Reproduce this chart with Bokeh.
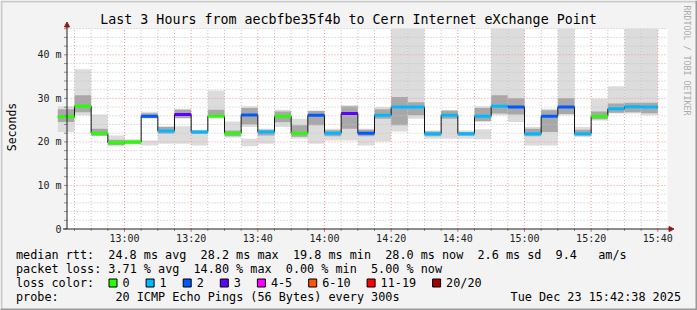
import math
import re
from bokeh.plotting import figure
from bokeh.models import Range1d
from bokeh.core.properties import value
from bokeh.embed import file_html
from bokeh.resources import INLINE

# ---------------- data ----------------
step_end = ["12:45", "12:50", "12:55", "13:00", "13:05", "13:10", "13:15", "13:20", "13:25",
            "13:30", "13:35", "13:40", "13:45", "13:50", "13:55", "14:00", "14:05", "14:10",
            "14:15", "14:20", "14:25", "14:30", "14:35", "14:40", "14:45", "14:50", "14:55",
            "15:00", "15:05", "15:10", "15:15", "15:20", "15:25", "15:30", "15:35", "15:40"]
median = [25.8, 28.2, 22.0, 19.8, 20.0, 25.9, 22.5, 26.3, 22.3, 25.9, 22.0, 26.2, 22.3, 25.9,
          22.0, 26.1, 22.0, 26.5, 22.0, 26.1, 28.0, 28.0, 21.9, 26.1, 21.9, 25.9, 28.2, 28.0,
          21.9, 25.9, 28.0, 21.9, 25.9, 27.6, 28.1, 28.0]
loss_bucket = [0, 0, 0, 0, 0, 2, 1, 3, 1, 0, 0, 2, 1, 0, 0, 2, 1, 3, 2, 1, 1, 1, 1, 1, 1, 1,
               1, 2, 1, 2, 2, 1, 0, 1, 1, 1]
smoke_lo = [22.3, 26.1, 21.3, 19.0, 19.4, 25.3, 19.6, 25.3, 19.2, 25.6, 21.0, 23.4, 19.6, 23.4,
            20.7, 19.6, 20.3, 20.3, 19.2, 20.1, 22.4, 25.3, 20.7, 20.7, 20.7, 24.6, 26.1, 24.6,
            19.2, 19.2, 26.1, 21.1, 24.9, 26.5, 26.5, 26.1]
smoke_hi = [28.2, 36.7, 26.3, 21.5, 20.6, 26.9, 23.6, 27.6, 22.6, 31.8, 24.7, 28.2, 23.0, 27.4,
            25.3, 27.2, 23.0, 28.4, 23.0, 28.0, 46.0, 46.0, 22.6, 27.2, 22.6, 28.2, 46.0, 46.0,
            23.4, 27.6, 46.0, 23.4, 29.9, 32.8, 46.0, 46.0]
core_lo = [24.6, 26.8, 21.4, 19.3, 19.6, 25.5, 21.9, 25.5, 21.8, 25.7, 21.3, 24.0, 21.5, 24.5,
           21.2, 23.8, 21.3, 23.0, 21.3, 25.3, 23.8, 26.1, 21.3, 25.3, 21.4, 24.8, 26.5, 26.3,
           21.3, 22.3, 26.4, 21.4, 25.2, 26.7, 26.8, 26.6]
core_hi = [27.5, 30.7, 23.0, 20.5, 20.3, 26.6, 23.4, 27.4, 22.6, 27.4, 22.6, 27.8, 22.8, 27.0,
           23.8, 27.1, 22.7, 28.2, 22.8, 27.5, 30.3, 29.1, 22.4, 27.2, 22.3, 27.8, 30.7, 30.0,
           23.0, 27.3, 30.0, 22.8, 27.0, 28.8, 29.0, 29.0]
# separate lower smoke patches (step index, low, high)
extra_idx = [5, 7, 11, 25]
extra_lo = [19.2, 19.6, 19.0, 20.6]
extra_hi = [20.3, 23.6, 20.7, 22.9]

loss_labels = ["0", "1", "2", "3", "4-5", "6-10", "11-19", "20/20"]
loss_colors = ["#26ff00", "#00b8ff", "#0059ff", "#5e00ff", "#ff00ff", "#ff5500", "#ff0000", "#a10000"]

x_tick_labels = ["13:00", "13:20", "13:40", "14:00", "14:20", "14:40", "15:00", "15:20", "15:40"]
y_ticks = [0, 10, 20, 30, 40]
y_tick_labels = ["0", "10 m", "20 m", "30 m", "40 m"]

title_text = "Last 3 Hours from aecbfbe35f4b to Cern Internet eXchange Point"
y_label = "Seconds"
stat_lines = [
    "median rtt:  24.8 ms avg  28.2 ms max  19.8 ms min  28.0 ms now  2.6 ms sd  9.4   am/s",
    "packet loss: 3.71 % avg  14.80 % max  0.00 % min  5.00 % now",
]
loss_title = "loss color:"
probe_line = "probe:        20 ICMP Echo Pings (56 Bytes) every 300s"
date_text = "Tue Dec 23 15:42:38 2025"
side_text = "RRDTOOL / TOBI OETIKER"


def to_min(s):
    h, m = s.split(":")
    return int(h) * 60 + int(m)


t_end = [to_min(s) for s in step_end]
t_start = [t - 5 for t in t_end]
x_ticks = [to_min(s) for s in x_tick_labels]

# ---------------- geometry (canvas pixels) ----------------
W, H = 697, 310
FL, FR = 67.0, 667.0          # plot area left/right
FT, FB = 28.2, 228.5          # plot area top/bottom
X0, X1 = 762.9, 942.9         # time window (minutes)
Y0, Y1 = 0.0, 46.0            # value window (ms)
PX = (FR - FL) / (X1 - X0)
PY = (FB - FT) / (Y1 - Y0)
MONO = "DejaVu Sans Mono"


def dx(cx):
    return X0 + (cx - FL) / PX


def dy(cy):
    return Y0 + (FB - cy) / PY


p = figure(width=W, height=H, output_backend="svg", toolbar_location=None, title=None,
           x_range=Range1d(dx(0), dx(W)), y_range=Range1d(dy(H), dy(0)),
           x_axis_type=None, y_axis_type=None, min_border=0,
           background_fill_color="#f3f3f3", border_fill_color="#f3f3f3")
p.outline_line_color = None
p.grid.visible = False

# canvas (white plot area)
p.quad(left=[X0], right=[X1], bottom=[Y0], top=[Y1], fill_color="#ffffff", line_color=None)

# smoke
p.quad(left=t_start, right=t_end, bottom=smoke_lo, top=smoke_hi,
       fill_color="#dcdcdc", line_color=None)
p.quad(left=[t_start[i] for i in extra_idx], right=[t_end[i] for i in extra_idx],
       bottom=extra_lo, top=extra_hi, fill_color="#dcdcdc", line_color=None)
p.quad(left=t_start, right=t_end, bottom=core_lo, top=core_hi,
       fill_color="#a8a8a8", line_color=None)

# grid (dotted), drawn above the smoke like rrdtool
minor_x = [m for m in range(765, 945, 5) if m not in x_ticks and X0 < m < X1]
minor_y = [v for v in range(2, 47, 2) if v not in y_ticks]
GRID_MINOR, GRID_MAJOR = "#c4c4c4", "#f29a9a"
p.segment(x0=minor_x, y0=Y0, x1=minor_x, y1=Y1, line_color=GRID_MINOR, line_dash="1 2", line_width=1)
p.segment(x0=X0, y0=minor_y, x1=X1, y1=minor_y, line_color=GRID_MINOR, line_dash="1 2", line_width=1)
p.segment(x0=x_ticks, y0=Y0, x1=x_ticks, y1=Y1, line_color=GRID_MAJOR, line_dash="1 2", line_width=1)
p.segment(x0=X0, y0=y_ticks[1:], x1=X1, y1=y_ticks[1:], line_color=GRID_MAJOR, line_dash="1 2",
          line_width=1)

# median step line coloured by loss
p.segment(x0=t_end[:-1], y0=median[:-1], x1=t_end[:-1], y1=median[1:],
          line_color="#111111", line_width=1)
p.segment(x0=t_start, y0=median, x1=t_end, y1=median, line_color="#303030", line_width=1.5)
p.segment(x0=t_start, y0=median, x1=t_end, y1=median,
          line_color=[loss_colors[b] for b in loss_bucket], line_width=3)

# axes
AXIS = "#202020"
ARROW = "#8b1a1a"
all_y = sorted(y_ticks + minor_y)
p.segment(x0=dx(63.5), y0=all_y, x1=dx(66.5), y1=all_y, line_color="#909090", line_width=1)
p.segment(x0=minor_x, y0=Y0, x1=minor_x, y1=dy(FB + 2), line_color="#909090", line_width=1)
p.segment(x0=x_ticks, y0=Y0, x1=x_ticks, y1=dy(FB + 3), line_color="#e07070", line_width=1)
p.segment(x0=[dx(66.5)], y0=[Y0], x1=[dx(66.5)], y1=[dy(26)], line_color=AXIS, line_width=1)
p.segment(x0=[dx(62.5)], y0=[Y0], x1=[dx(668.5)], y1=[Y0], line_color=AXIS, line_width=1)
p.patch(x=[dx(64.0), dx(69.0), dx(66.5)], y=[dy(26.5), dy(26.5), dy(21.5)],
        fill_color=ARROW, line_color=ARROW)
p.patch(x=[dx(668.5), dx(668.5), dx(673.5)], y=[dy(226.0), dy(231.0), dy(228.5)],
        fill_color=ARROW, line_color=ARROW)


def txt(cx, cy, s, size, align="left", color="#000000", angle=0.0):
    p.text(x=[dx(cx)], y=[dy(cy)], text=[s], text_font=value(MONO), text_font_size=value(size),
           text_color=color, text_align=align, text_baseline="middle", angle=angle)


LX, CW, LS = 15.5, 7.1, "11.8px"


def mono_line(cx, cy, s):
    # monospace columns: runs of several spaces would collapse in SVG, so each
    # word group is placed at its own character column
    for m in re.finditer(r"\S+(?: \S+)*", s):
        txt(cx + m.start() * CW, cy, m.group(), LS)


# tick labels
p.text(x=x_ticks, y=dy(237.8), text=x_tick_labels, text_font=value(MONO),
       text_font_size=value("10px"), text_color="#222222", text_align="center",
       text_baseline="middle")
p.text(x=dx(61.0), y=y_ticks, text=y_tick_labels, text_font=value(MONO),
       text_font_size=value("10px"), text_color="#222222", text_align="right",
       text_baseline="middle")
txt(11.0, 126.5, y_label, "11.5px", align="center", angle=math.pi / 2)

# title and legend
txt(348.0, 19.0, title_text, "13.3px", align="center")
mono_line(LX, 254.3, stat_lines[0])
mono_line(LX, 268.3, stat_lines[1])
mono_line(LX, 282.3, loss_title)
mono_line(LX, 296.2, probe_line)
txt(680.5, 296.2, date_text, LS, align="right")
bx = 108.5
for lab, col in zip(loss_labels, loss_colors):
    p.quad(left=[dx(bx)], right=[dx(bx + 8)], top=[dy(278.5)], bottom=[dy(286.5)],
           fill_color=col, line_color="#000000", line_width=1)
    txt(bx + 13.5, 282.3, lab, LS)
    bx += 30.0 + CW * len(lab)

txt(686.5, 5.0, side_text, "8.3px", color="#ababab", angle=-math.pi / 2)

# 3D frame
p.quad(left=[dx(0)], right=[dx(W)], top=[dy(0)], bottom=[dy(2)], fill_color="#cbcbcb", line_color=None)
p.quad(left=[dx(0)], right=[dx(2)], top=[dy(0)], bottom=[dy(H)], fill_color="#cbcbcb", line_color=None)
p.quad(left=[dx(0)], right=[dx(W)], top=[dy(H - 2)], bottom=[dy(H)], fill_color="#999999", line_color=None)
p.quad(left=[dx(W - 2)], right=[dx(W)], top=[dy(0)], bottom=[dy(H)], fill_color="#999999", line_color=None)

open("out.html", "w").write(file_html(p, INLINE))
